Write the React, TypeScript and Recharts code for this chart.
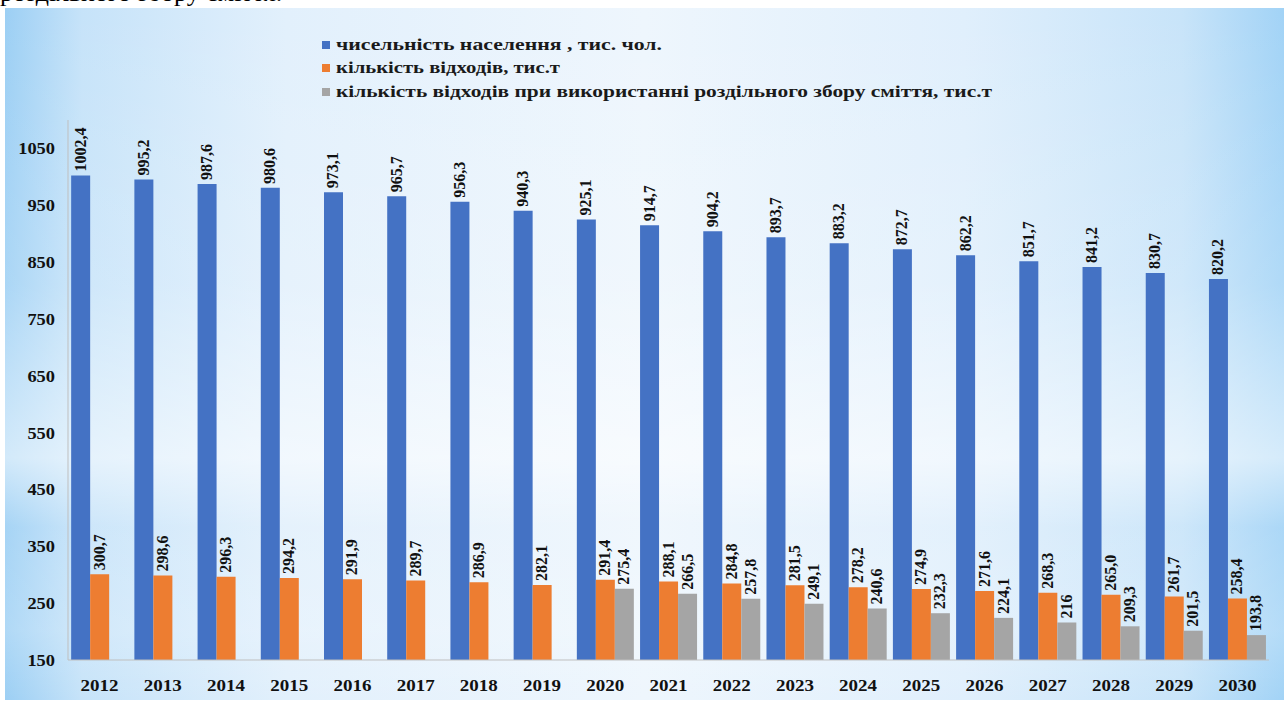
import React from 'react';
import { BarChart, Bar, XAxis, YAxis, LabelList } from 'recharts';

const years = ['2012', '2013', '2014', '2015', '2016', '2017', '2018', '2019', '2020', '2021',
  '2022', '2023', '2024', '2025', '2026', '2027', '2028', '2029', '2030'];

// values as printed on the chart (comma decimal)
const population = ['1002,4', '995,2', '987,6', '980,6', '973,1', '965,7', '956,3', '940,3', '925,1', '914,7',
  '904,2', '893,7', '883,2', '872,7', '862,2', '851,7', '841,2', '830,7', '820,2'];
const waste = ['300,7', '298,6', '296,3', '294,2', '291,9', '289,7', '286,9', '282,1', '291,4', '288,1',
  '284,8', '281,5', '278,2', '274,9', '271,6', '268,3', '265,0', '261,7', '258,4'];
const wasteSorted = [null, null, null, null, null, null, null, null, '275,4', '266,5',
  '257,8', '249,1', '240,6', '232,3', '224,1', '216', '209,3', '201,5', '193,8'];

const yTicks = [150, 250, 350, 450, 550, 650, 750, 850, 950, 1050];

const seriesNames = [
  'чисельність населення , тис. чол.',
  'кількість  відходів, тис.т',
  'кількість  відходів  при  використанні  роздільного  збору  сміття,  тис.т',
];
const colors = ['#4472C4', '#ED7D31', '#A5A5A5'];

const num = (s: string | null) => (s == null ? null : parseFloat(s.replace(',', '.')));

const data = years.map((y, i) => ({
  year: y,
  pop: num(population[i]),
  popLabel: population[i],
  waste: num(waste[i]),
  wasteLabel: waste[i],
  sorted: num(wasteSorted[i]),
  sortedLabel: wasteSorted[i],
}));

const FONT = '"Liberation Serif", "Times New Roman", serif';

const VLabel = (props: any) => {
  const { x, y, width, value } = props;
  if (value == null) return null;
  const cx = x + width / 2;
  const ty = y - 4;
  return (
    <text
      x={cx}
      y={ty}
      transform={`rotate(-90 ${cx} ${ty})`}
      dy={5}
      textAnchor="start"
      fontFamily={FONT}
      fontWeight="bold"
      fontSize={16}
      fill="#111"
    >
      {value}
    </text>
  );
};

const YearTick = (props: any) => {
  const { x, y, payload } = props;
  return (
    <text x={x} y={y} dy={31} textAnchor="middle" fontFamily={FONT} fontWeight="bold" fontSize={17}
      textLength={38} lengthAdjust="spacingAndGlyphs" fill="#111">
      {payload.value}
    </text>
  );
};

const ValueTick = (props: any) => {
  const { x, y, payload } = props;
  const w = String(payload.value).length * 9.2;
  return (
    <text x={x} y={y} dy={6} textAnchor="end" fontFamily={FONT} fontWeight="bold" fontSize={17}
      textLength={w} lengthAdjust="spacingAndGlyphs" fill="#111">
      {payload.value}
    </text>
  );
};

const legendRows = [
  { y: 45, end: 662 },
  { y: 68, end: 560 },
  { y: 92, end: 992 },
];

export default function App() {
  return (
    <div style={{ position: 'absolute', left: 0, top: 0, width: 1284, height: 704, overflow: 'hidden', background: '#fff' }}>
      <div style={{ position: 'absolute', left: 0, top: -22, fontFamily: FONT, fontSize: 26, lineHeight: '30px', color: '#000', whiteSpace: 'nowrap' }}>
        роздільного збору сміття.
      </div>
      <div
        style={{
          position: 'absolute', left: 5, top: 8, width: 1279, height: 692,
          background: 'linear-gradient(90deg, #9ccff4 0%, #c6e3f9 6%, #e2f0fc 22%, #eef6fd 50%, #e0effc 75%, #c8e4f9 92%, #a2d3f6 100%)',
        }}
      >
        <div style={{
          position: 'absolute', inset: 0,
          background: 'linear-gradient(180deg, rgba(255,255,255,0) 0%, rgba(255,255,255,0.15) 40%, rgba(255,255,255,0.55) 65%, rgba(255,255,255,0.1) 75%, rgba(255,255,255,0.2) 90%, rgba(255,255,255,0) 100%)',
        }} />
      </div>
      <svg width={1284} height={110} style={{ position: 'absolute', left: 0, top: 0 }}>
        {legendRows.map((r, i) => (
          <g key={i}>
            <rect x={322} y={r.y - 4} width={8} height={8} fill={colors[i]} />
            <text
              x={336}
              y={r.y + 5}
              textLength={r.end - 336}
              lengthAdjust="spacingAndGlyphs"
              fontFamily={FONT}
              fontWeight="bold"
              fontSize={16}
              fill="#1a1a1a"
            >
              {seriesNames[i]}
            </text>
          </g>
        ))}
      </svg>
      <div style={{ position: 'absolute', left: 0, top: 0 }}>
        <BarChart
          width={1284}
          height={704}
          data={data}
          margin={{ top: 120, right: 15, bottom: 0, left: 0 }}
          barCategoryGap="5%"
          barGap={0}
        >
          <XAxis
            dataKey="year"
            height={44}
            tickLine={false}
            tickSize={0}
            tickMargin={0}
            axisLine={{ stroke: '#bfbfbf' }}
            tick={<YearTick />}
            interval={0}
          />
          <YAxis
            width={68}
            domain={[150, 1100]}
            ticks={yTicks}
            allowDataOverflow
            tickLine={false}
            tickSize={0}
            tickMargin={13}
            axisLine={{ stroke: '#bfbfbf' }}
            tick={<ValueTick />}
          />
          <Bar dataKey="pop" fill={colors[0]} isAnimationActive={false}>
            <LabelList dataKey="popLabel" content={<VLabel />} />
          </Bar>
          <Bar dataKey="waste" fill={colors[1]} isAnimationActive={false}>
            <LabelList dataKey="wasteLabel" content={<VLabel />} />
          </Bar>
          <Bar dataKey="sorted" fill={colors[2]} isAnimationActive={false}>
            <LabelList dataKey="sortedLabel" content={<VLabel />} />
          </Bar>
        </BarChart>
      </div>
    </div>
  );
}
